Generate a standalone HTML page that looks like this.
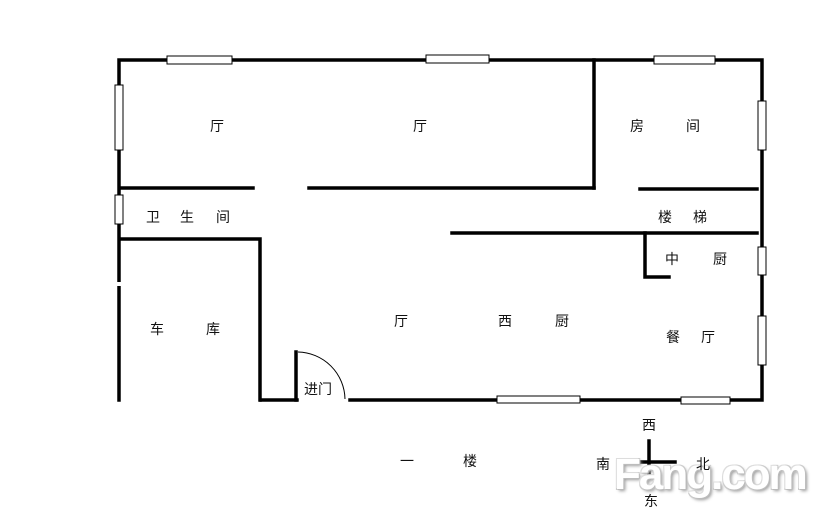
<!DOCTYPE html>
<html><head><meta charset="utf-8"><style>
html,body{margin:0;padding:0;background:#fff;}
body{width:814px;height:519px;position:relative;overflow:hidden;font-family:"Liberation Sans","Noto Sans CJK SC",sans-serif;}
svg{position:absolute;left:0;top:0;}
.t{position:absolute;font-size:14px;color:#111;line-height:1;transform:translate(-50%,-50%);white-space:nowrap;}
.wm{position:absolute;left:614px;top:453px;font:bold 44px "Liberation Sans",sans-serif;color:#fff;letter-spacing:-2px;line-height:1;
text-shadow:1px 1px 0 #bbb,-1px -1px 0 #ddd,1px -1px 0 #ccc,-1px 1px 0 #ccc,2px 2px 3px #999;}
</style></head><body>
<svg width="814" height="519" viewBox="0 0 814 519">
<g stroke="#000" stroke-width="3.5" fill="none" stroke-linecap="square">
<polyline points="119,400 119,60 762,60 762,400 350,400"/>
<polyline points="261,400 297,400"/>
<line x1="121" y1="188" x2="253" y2="188"/>
<line x1="309" y1="188" x2="594" y2="188"/>
<line x1="594" y1="60" x2="594" y2="188"/>
<line x1="640" y1="189" x2="757" y2="189"/>
<polyline points="121,239 260,239 260,400"/>
<line x1="452" y1="233" x2="757" y2="233"/>
<polyline points="645,233 645,277 669,277"/>
<line x1="296" y1="352" x2="296" y2="400"/>
<line x1="649" y1="441" x2="649" y2="478"/>
<line x1="618" y1="462" x2="675" y2="462"/>
</g>
<rect x="115" y="282" width="8" height="4" fill="#fff"/>
<path d="M298,352 A48,48 0 0 1 345,399" stroke="#000" stroke-width="1" fill="none"/>
<g fill="#fff" stroke="#000" stroke-width="1">
<rect x="167" y="56" width="65" height="8"/>
<rect x="426" y="55" width="63" height="8"/>
<rect x="654" y="56" width="61" height="8"/>
<rect x="115" y="85" width="8" height="65"/>
<rect x="115" y="195" width="8" height="29"/>
<rect x="758" y="101" width="8" height="49"/>
<rect x="758" y="247" width="8" height="28"/>
<rect x="758" y="316" width="8" height="49"/>
<rect x="497" y="396" width="83" height="7"/>
<rect x="681" y="397" width="49" height="7"/>
</g>
</svg>
<div class="wm">Fang.com</div>
<div class="t" style="left:217px;top:126px">厅</div>
<div class="t" style="left:420px;top:126px">厅</div>
<div class="t" style="left:637px;top:126px">房</div>
<div class="t" style="left:693px;top:126px">间</div>
<div class="t" style="left:153px;top:217px">卫</div>
<div class="t" style="left:187px;top:217px">生</div>
<div class="t" style="left:223px;top:217px">间</div>
<div class="t" style="left:665px;top:217px">楼</div>
<div class="t" style="left:700px;top:217px">梯</div>
<div class="t" style="left:672px;top:259px">中</div>
<div class="t" style="left:720px;top:259px">厨</div>
<div class="t" style="left:157px;top:329px">车</div>
<div class="t" style="left:213px;top:329px">库</div>
<div class="t" style="left:401px;top:321px">厅</div>
<div class="t" style="left:505px;top:321px">西</div>
<div class="t" style="left:562px;top:321px">厨</div>
<div class="t" style="left:673px;top:337px">餐</div>
<div class="t" style="left:708px;top:337px">厅</div>
<div class="t" style="left:318px;top:389px">进门</div>
<div class="t" style="left:407px;top:461px">一</div>
<div class="t" style="left:470px;top:461px">楼</div>
<div class="t" style="left:649px;top:425px">西</div>
<div class="t" style="left:603px;top:464px">南</div>
<div class="t" style="left:703px;top:464px">北</div>
<div class="t" style="left:651px;top:501px">东</div>
</body></html>
